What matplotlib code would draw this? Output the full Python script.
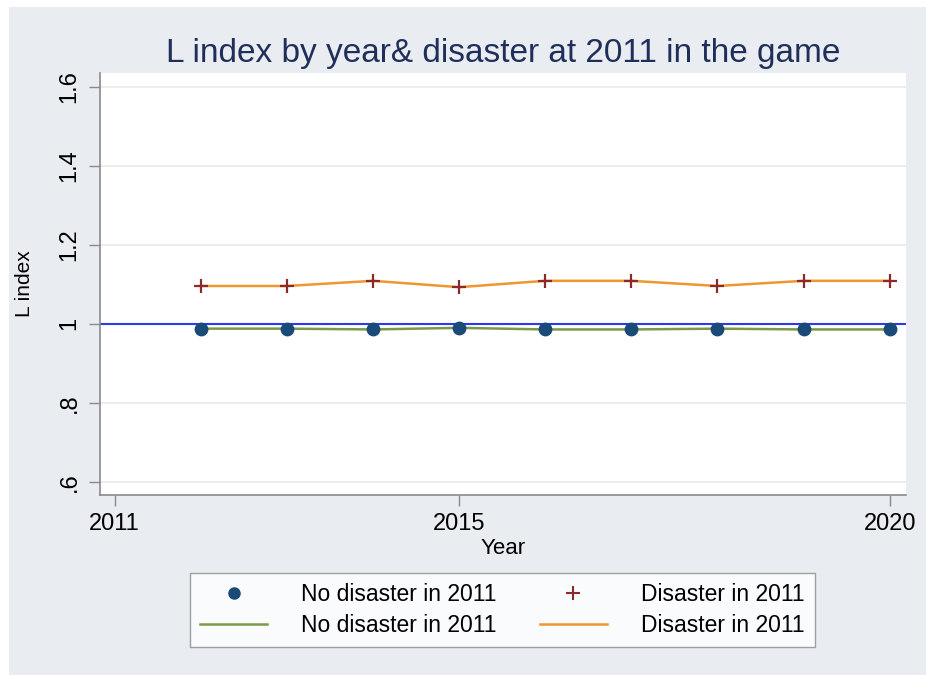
import matplotlib
matplotlib.use("Agg")
import matplotlib.pyplot as plt
from matplotlib.patches import Rectangle
from matplotlib.lines import Line2D

plt.rcParams['font.family'] = ['Liberation Sans', 'DejaVu Sans']

years = [2012, 2013, 2014, 2015, 2016, 2017, 2018, 2019, 2020]
no_disaster = [0.988, 0.988, 0.986, 0.990, 0.986, 0.986, 0.988, 0.986, 0.986]
disaster = [1.096, 1.096, 1.109, 1.093, 1.109, 1.109, 1.096, 1.109, 1.109]
x_ticks = [2011, 2015, 2020]
y_ticks = [0.6, 0.8, 1.0, 1.2, 1.4, 1.6]
y_labels = [".6", ".8", "1", "1.2", "1.4", "1.6"]
ref_value = 1.0

W, H = 926, 675
fig = plt.figure(figsize=(W / 100, H / 100), dpi=100, facecolor="white")
bg = "#e9ecf1"
fig.patches.append(Rectangle((9 / W, 0), 1 - 9 / W, 1 - 7 / H, transform=fig.transFigure,
                             facecolor=bg, edgecolor="none", zorder=-10))

left, right, top, bottom = 100, 906, 73, 495
ax = fig.add_axes([left / W, 1 - bottom / H, (right - left) / W, (bottom - top) / H])
ax.set_facecolor("white")
ax.set_xlim(2010.83, 2020.19)
ax.set_ylim(0.567, 1.635)

for y in y_ticks:
    ax.axhline(y, color="#eaeaea", lw=1.2, zorder=0)
ax.axhline(ref_value, color="#2a3af0", lw=1.5, zorder=2)

ax.plot(years, no_disaster, color="#7a9a4a", lw=1.8, zorder=3)
ax.plot(years, disaster, color="#f0962e", lw=1.8, zorder=3)
ax.scatter(years, no_disaster, s=80, color="#1a4a78", zorder=4)
ax.scatter(years, disaster, marker="+", s=110, color="#8b2a2a", linewidths=1.6, zorder=5)

for s in ["top", "right"]:
    ax.spines[s].set_visible(False)
for s in ["left", "bottom"]:
    ax.spines[s].set_color("#8a8a8a")
    ax.spines[s].set_linewidth(1.2)

ax.set_xticks(x_ticks)
ax.set_xticklabels([str(t) for t in x_ticks], fontsize=17)
ax.set_yticks(y_ticks)
ax.set_yticklabels(y_labels, fontsize=17, rotation=90, va="center")
ax.tick_params(axis="both", direction="out", length=8, color="#8a8a8a", width=1.0)
ax.tick_params(axis="x", pad=5)
ax.tick_params(axis="y", pad=6)

ax.set_xlabel("Year", fontsize=16, labelpad=2)
ax.set_ylabel("L index", fontsize=15, labelpad=18)
ax.set_title("L index by year& disaster at 2011 in the game", fontsize=24,
             color="#1f2f5a", pad=8)

handles = [
    Line2D([], [], marker="o", ls="none", color="#1a4a78", markersize=8),
    Line2D([], [], color="#7a9a4a", lw=1.8),
    Line2D([], [], marker="+", ls="none", color="#8b2a2a", markersize=10, mew=1.5),
    Line2D([], [], color="#f0962e", lw=1.8),
]
labels = ["No disaster in 2011", "No disaster in 2011", "Disaster in 2011", "Disaster in 2011"]
leg = fig.legend(handles, labels, ncol=2, loc="center",
                 bbox_to_anchor=((185 + 820) / 2 / W, 1 - 610 / H),
                 fontsize=16.5, frameon=True, fancybox=False, handlelength=2.9,
                 columnspacing=1.9, labelspacing=0.35, borderpad=0.45, handletextpad=1.5)
leg.get_frame().set_edgecolor("#8a8a8a")
leg.get_frame().set_linewidth(1.0)

fig.savefig("out.png", dpi=100, facecolor=fig.get_facecolor())
